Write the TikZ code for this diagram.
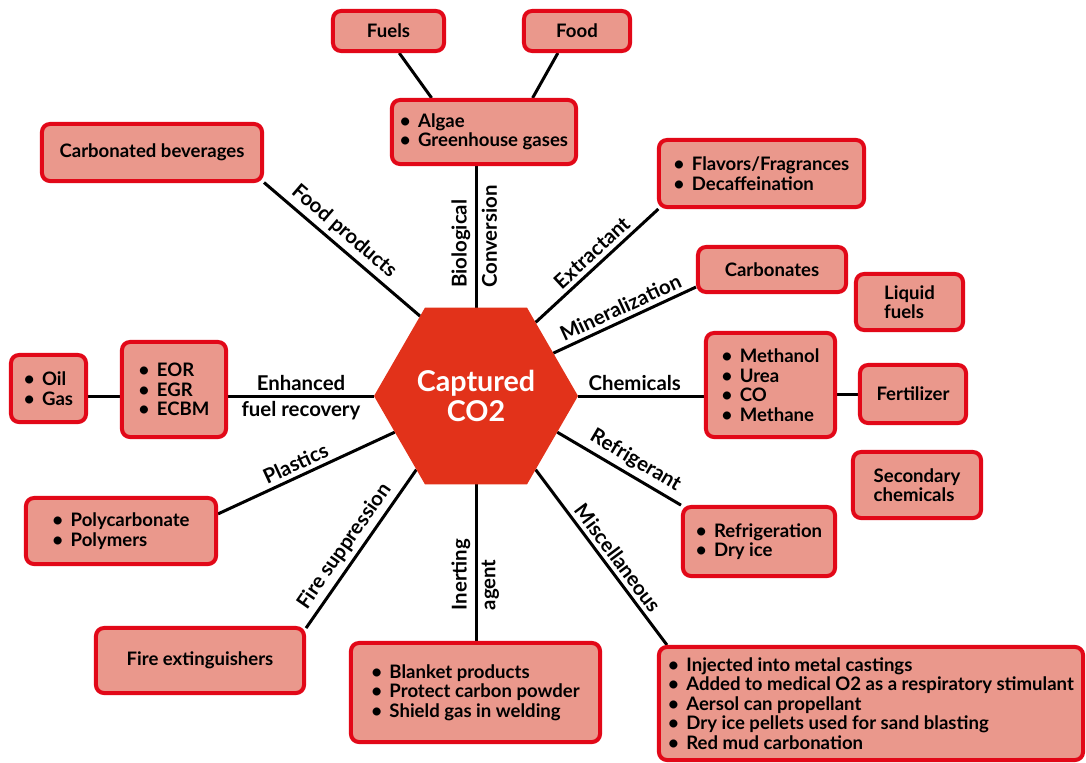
\documentclass[tikz,border=0pt]{standalone}
\usepackage{fontspec}
\setmainfont{Lato}
\usetikzlibrary{shapes.geometric, backgrounds}

\definecolor{boxfill}{RGB}{234,152,140}
\definecolor{boxline}{RGB}{226,8,24}
\definecolor{hexred}{RGB}{226,50,26}

\newcommand{\itm}{\textbullet\hspace{0.4em}}

\begin{document}
\begin{tikzpicture}[
			x=0.025cm, y=-0.025cm,
			box/.style={rectangle, rounded corners=0.2cm, draw=boxline, line width=0.1cm, fill=boxfill, align=left, font=\bfseries\fontsize{13.2}{13.9}\selectfont, inner sep=2pt},
			hub/.style={regular polygon, regular polygon sides=6, minimum size=5.1cm, inner sep=0pt, outer sep=0pt, fill=hexred, text=white, align=center, font=\bfseries\fontsize{20.4}{21}\selectfont},
			link/.style={line width=0.075cm, black},
			lbl/.style={font=\bfseries\fontsize{14.5}{16}\selectfont, sloped, inner sep=3pt}
		]
		
		\useasboundingbox (0,0) rectangle (1086,763);
		
		% Centre
		\node[hub] (hub) at (476,396) {Captured\\CO2};
		
		% Top
		\node[box, minimum width=2.775cm, minimum height=1cm] (fuels) at (388.5,31) {Fuels};
		\node[box, minimum width=2.65cm, minimum height=1cm] (food) at (577,31) {Food};
		\node[box, minimum width=4.6cm, minimum height=1.6cm] (algae) at (484,132) {\itm Algae\\\itm Greenhouse gases};
		\node[box, minimum width=5.5cm, minimum height=1.425cm] (cbev) at (152,152.5) {Carbonated beverages};
		
		% Right
		\node[box, minimum width=5.125cm, minimum height=1.675cm] (flav) at (761.5,173.5) {\itm Flavors/Fragrances\\\itm Decaffeination};
		\node[box, minimum width=3.7cm, minimum height=1.125cm] (carb) at (772,269.5) {Carbonates};
		\node[box, minimum width=2.675cm, minimum height=1.4cm] (liq) at (909.5,302) {Liquid\\fuels};
		\node[box, minimum width=3.225cm, minimum height=2.6cm] (meth) at (770.5,385) {\itm Methanol\\\itm Urea\\\itm CO\\\itm Methane};
		\node[box, minimum width=2.65cm, minimum height=1.45cm] (fert) at (913,394) {Fertilizer};
		\node[box, minimum width=3.2cm, minimum height=1.65cm] (sec) at (917,485) {Secondary\\chemicals};
		\node[box, minimum width=3.8cm, minimum height=1.725cm] (refr) at (759,541.5) {\itm Refrigeration\\\itm Dry ice};
		\node[box, minimum width=10.6cm, minimum height=2.825cm] (misc) at (871,703.5) {\itm Injected into metal castings\\\itm Added to medical O2 as a respiratory stimulant\\\itm Aersol can propellant\\\itm Dry ice pellets used for sand blasting\\\itm Red mud carbonation};
		
		% Bottom and left
		\node[box, minimum width=6.225cm, minimum height=2.475cm] (inert) at (475.5,692.5) {\itm Blanket products\\\itm Protect carbon powder\\\itm Shield gas in welding};
		\node[box, minimum width=5.2cm, minimum height=1.625cm] (fire) at (200,660.5) {Fire extinguishers};
		\node[box, minimum width=4.75cm, minimum height=1.65cm] (poly) at (121,531) {\itm Polycarbonate\\\itm Polymers};
		\node[box, minimum width=2.6cm, minimum height=2.375cm] (eor) at (174,389.5) {\itm EOR\\\itm EGR\\\itm ECBM};
		\node[box, minimum width=1.875cm, minimum height=1.675cm] (oil) at (48.5,388.5) {\itm Oil\\\itm Gas};
		
		% Links
		\begin{scope}[on background layer]
		\draw[link] (algae.147) -- (fuels.-64);
		\draw[link] (algae.35) -- (food.229);
		\draw[link] (hub.north) -- node[lbl, pos=0.1, anchor=south west] {Biological} node[lbl, pos=0.1, anchor=north west] {Conversion} (hub.north |- algae.south);
		\draw[link] (cbev.-15) -- node[lbl, pos=0.45, above] {Food products} (hub.125);
		\draw[link] (hub.51) -- node[lbl, pos=0.53, above] {Extractant} (flav.199.5);
		\draw[link] (hub.29) -- node[lbl, pos=0.51, above] {Mineralization} (carb.193);
		\draw[link] (hub.east) -- node[lbl, pos=0.45, above] {Chemicals} (hub.east -| meth.west);
		\draw[link] (meth.east |- fert.west) -- (fert.west);
		\draw[link] (hub.-24) -- node[lbl, pos=0.57, above] {Refrigerant} (refr.155);
		\draw[link] (hub.-51) -- node[lbl, pos=0.55, above] {Miscellaneous} (misc.164.5);
		\draw[link] (hub.south |- inert.north) -- node[lbl, pos=0.16, anchor=south west] {Inerting} node[lbl, pos=0.16, anchor=north west] {agent} (hub.south);
		\draw[link] (fire.17) -- node[lbl, pos=0.46, above] {Fire suppression} (hub.231);
		\draw[link] (poly.10) -- node[lbl, pos=0.47, above] {Plastics} (hub.204);
		\draw[link] (hub.west -| eor.east) -- node[lbl, pos=0.5, above] {Enhanced} node[lbl, pos=0.5, below] {fuel recovery} (hub.west);
		\draw[link] (oil.east |- hub.west) -- (eor.west |- hub.west);
		\end{scope}
		
		\end{tikzpicture}
\end{document}
